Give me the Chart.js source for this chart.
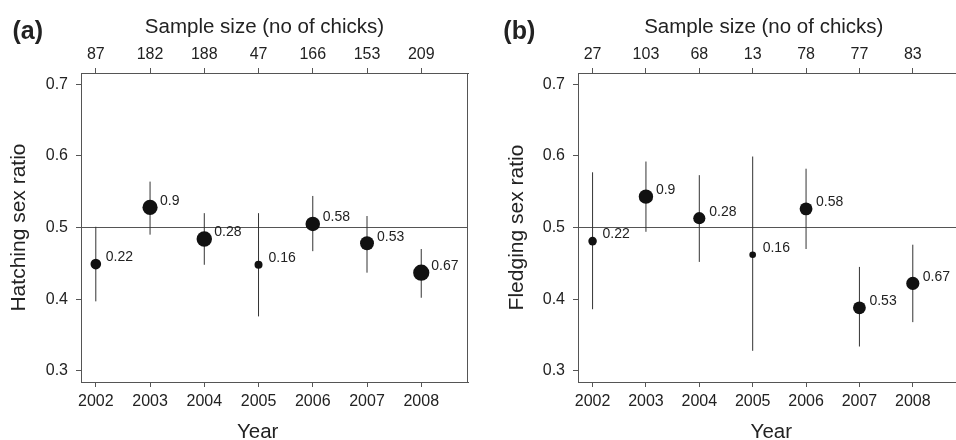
<!DOCTYPE html>
<html><head><meta charset="utf-8">
<script src="https://cdn.jsdelivr.net/npm/chart.js@4.4.1/dist/chart.umd.min.js"></script>
<style>
html,body{margin:0;padding:0;background:#fff;overflow:hidden;width:956px;height:440px;}
#wrap{position:relative;width:956px;height:440px;overflow:hidden;}
canvas{position:absolute;top:0;}
#ca{left:0}
#cb{left:478px}
</style></head><body>
<div id="wrap"><canvas id="ca" width="478" height="440"></canvas><canvas id="cb" width="488" height="440"></canvas></div>
<script>
// ---- data ----
const years = [2002, 2003, 2004, 2005, 2006, 2007, 2008];
const yTicks = [0.3, 0.4, 0.5, 0.6, 0.7];
const refValue = 0.5;

// (a) Hatching sex ratio
const sampleA = [87, 182, 188, 47, 166, 153, 209];
const ratioA  = [0.449, 0.528, 0.484, 0.448, 0.505, 0.478, 0.437];
const lowA    = [0.397, 0.490, 0.448, 0.376, 0.467, 0.437, 0.402];
const highA   = [0.501, 0.564, 0.520, 0.520, 0.544, 0.516, 0.470];
const labelsA = ['0.22', '0.9', '0.28', '0.16', '0.58', '0.53', '0.67'];

// (b) Fledging sex ratio
const sampleB = [27, 103, 68, 13, 78, 77, 83];
const ratioB  = [0.481, 0.543, 0.513, 0.462, 0.526, 0.388, 0.422];
const lowB    = [0.386, 0.494, 0.452, 0.328, 0.470, 0.334, 0.368];
const highB   = [0.577, 0.592, 0.573, 0.599, 0.582, 0.445, 0.476];
const labelsB = ['0.22', '0.9', '0.28', '0.16', '0.58', '0.53', '0.67'];

// ---- style ----
const FONT = "'Liberation Sans', Arial, Helvetica, sans-serif";
const TXT = '#222';
const AX = '#555';
const X_MIN = 2001.727, X_MAX = 2008.862;
const Y_MIN = 0.2845, Y_MAX = 0.7155;

const framePlugin = {
  id: 'frame',
  afterDraw(chart) {
    const {ctx, chartArea: a} = chart;
    ctx.save();
    ctx.strokeStyle = AX; ctx.lineWidth = 1;
    ctx.beginPath();
    ctx.moveTo(Math.round(a.right) - 0.5, a.top);
    ctx.lineTo(Math.round(a.right) - 0.5, a.bottom);
    ctx.stroke();
    ctx.restore();
  }
};

const pointLabelPlugin = {
  id: 'pointLabels',
  afterDatasetsDraw(chart, args, opts) {
    const meta = chart.getDatasetMeta(0);
    const {ctx} = chart;
    ctx.save();
    ctx.font = '14px ' + FONT;
    ctx.fillStyle = TXT;
    ctx.textAlign = 'left';
    ctx.textBaseline = 'middle';
    meta.data.forEach((el, i) => {
      ctx.fillText(opts.labels[i], el.x + 10, el.y - 6.5);
    });
    ctx.restore();
  }
};

const textPlugin = {
  id: 'panelText',
  afterDraw(chart, args, opts) {
    const {ctx} = chart;
    ctx.save();
    ctx.fillStyle = TXT;
    ctx.textBaseline = 'alphabetic';
    opts.items.forEach(t => {
      ctx.font = t.font;
      ctx.textAlign = t.align;
      ctx.fillText(t.text, t.x, t.y);
    });
    ctx.restore();
  }
};

function makePanel(id, p) {
  const nMax = Math.max(...p.sample);
  const radii = p.sample.map(n => p.r0 + p.r1 * Math.sqrt(n / nMax));
  const errData = [];
  years.forEach((x, i) => {
    errData.push({x, y: p.low[i]}, {x, y: p.high[i]}, {x, y: null});
  });
  const gridOpts = {display: true, drawOnChartArea: false, drawTicks: true, tickLength: 5, color: AX, lineWidth: 1};
  const tickFont = {family: FONT, size: 16};
  return new Chart(document.getElementById(id), {
    type: 'scatter',
    data: {
      datasets: [
        {data: years.map((x, i) => ({x, y: p.ratio[i]})), pointRadius: radii, pointHoverRadius: radii,
         backgroundColor: '#111', borderColor: '#111', borderWidth: 0, order: 0},
        {data: errData, showLine: true, spanGaps: false, pointRadius: 0, borderColor: '#333', borderWidth: 1, order: 1},
        {data: [{x: X_MIN, y: refValue}, {x: X_MAX, y: refValue}], showLine: true, pointRadius: 0,
         borderColor: AX, borderWidth: 1, order: 2}
      ]
    },
    options: {
      responsive: false, animation: false, events: [],
      layout: {padding: {left: 0, right: p.padRight, top: 0, bottom: 0}},
      plugins: {
        legend: {display: false}, tooltip: {enabled: false},
        pointLabels: {labels: p.labels},
        panelText: {items: p.texts}
      },
      scales: {
        x: {
          type: 'linear', position: 'bottom', min: X_MIN, max: X_MAX,
          afterBuildTicks: s => { s.ticks = years.map(v => ({value: v})); },
          ticks: {callback: (v) => String(v), font: tickFont, color: TXT, padding: 5, autoSkip: false, maxRotation: 0},
          grid: gridOpts, border: {display: true, color: AX, width: 1},
          afterFit: s => { s.height = 58; }
        },
        xTop: {
          type: 'linear', position: 'top', min: X_MIN, max: X_MAX,
          afterBuildTicks: s => { s.ticks = years.map(v => ({value: v})); },
          ticks: {callback: (v, i) => String(p.sample[i]), font: tickFont, color: TXT, padding: 4, autoSkip: false, maxRotation: 0},
          grid: gridOpts, border: {display: true, color: AX, width: 1},
          afterFit: s => { s.height = 73; }
        },
        y: {
          type: 'linear', position: 'left', min: Y_MIN, max: Y_MAX,
          afterBuildTicks: s => { s.ticks = yTicks.map(v => ({value: v})); },
          ticks: {callback: v => v.toFixed(1), font: tickFont, color: TXT, padding: 8},
          grid: gridOpts, border: {display: true, color: AX, width: 1},
          title: {display: true, text: p.yTitle, color: TXT, font: {family: FONT, size: 21}, padding: {top: p.yTitlePad, bottom: 0}},
          afterFit: s => { s.width = p.yWidth; }
        }
      }
    },
    plugins: [framePlugin, pointLabelPlugin, textPlugin]
  });
}

makePanel('ca', {
  sample: sampleA, ratio: ratioA, low: lowA, high: highA, labels: labelsA,
  r0: 0.3, r1: 7.8, padRight: 10, yWidth: 81, yTitlePad: 6.5, yTitle: 'Hatching sex ratio',
  texts: [
    {text: '(a)', font: 'bold 25px ' + FONT, align: 'left', x: 12.5, y: 38.5},
    {text: 'Sample size (no of chicks)', font: '20.5px ' + FONT, align: 'center', x: 264.5, y: 33.3},
    {text: 'Year', font: '20.5px ' + FONT, align: 'center', x: 257.7, y: 438}
  ]
});
makePanel('cb', {
  sample: sampleB, ratio: ratioB, low: lowB, high: highB, labels: labelsB,
  r0: 1.2, r1: 6.0, padRight: 1, yWidth: 100, yTitlePad: 26.5, yTitle: 'Fledging sex ratio',
  texts: [
    {text: '(b)', font: 'bold 25px ' + FONT, align: 'left', x: 25.3, y: 38.5},
    {text: 'Sample size (no of chicks)', font: '20.5px ' + FONT, align: 'center', x: 285.8, y: 33.3},
    {text: 'Year', font: '20.5px ' + FONT, align: 'center', x: 293.3, y: 438}
  ]
});
</script>
</body></html>
